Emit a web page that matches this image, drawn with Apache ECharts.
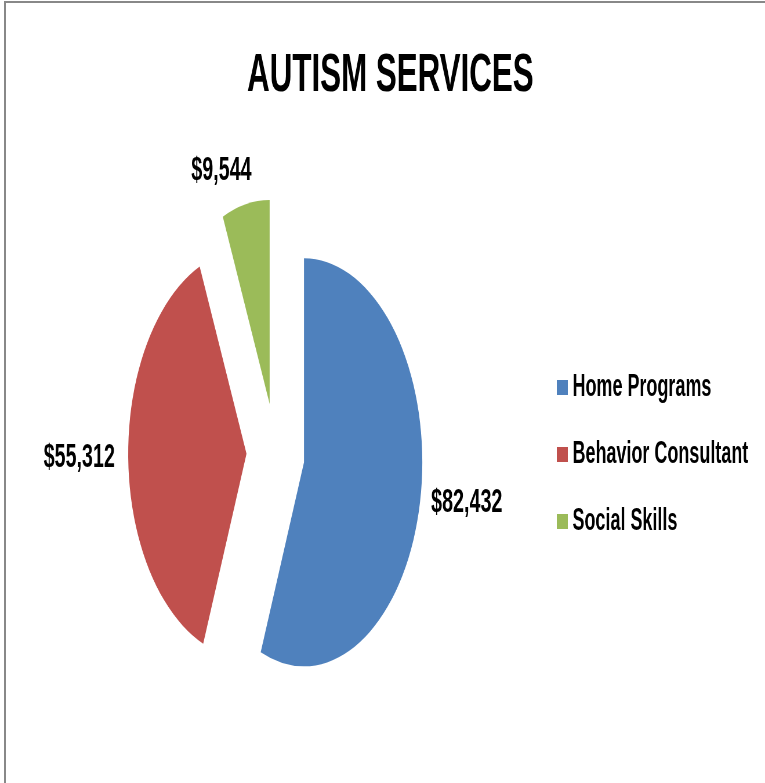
<!DOCTYPE html>
<html>
<head>
<meta charset="utf-8">
<script src="https://cdn.jsdelivr.net/npm/echarts@6/dist/echarts.min.js"></script>
<style>
  html, body { margin: 0; padding: 0; background: #fff; overflow: hidden; }
  #frame { position: absolute; left: 4px; top: 1px; width: 770px; height: 790px;
           border-top: 2px solid #888; border-left: 2px solid #888; }
  #wrap { position: absolute; left: 0; top: 0; width: 765px; height: 783px; overflow: hidden; }
  #chart { position: absolute; left: 0; top: 0; width: 1319px; height: 783px;
           transform: scaleX(0.58); transform-origin: 0 0; }
</style>
</head>
<body>
<div id="frame"></div>
<div id="wrap"><div id="chart"></div></div>
<script>
const titleText = 'AUTISM SERVICES';
const categories = ['Home Programs', 'Behavior Consultant', 'Social Skills'];
const values = [82432, 55312, 9544];
const colors = ['#4F81BD', '#C0504D', '#9BBB59'];

const FONT = "'Liberation Sans', Arial, sans-serif";
const labelLen = [14, 18, 34];

const chart = echarts.init(document.getElementById('chart'), null, { renderer: 'canvas' });

const data = categories.map((name, i) => ({
  name: name,
  value: values[i],
  selected: true,
  itemStyle: { color: colors[i] },
  labelLine: { show: false, length: labelLen[i], length2: 0 }
}));

chart.setOption({
  animation: false,
  backgroundColor: 'transparent',
  title: {
    text: titleText,
    left: 668,
    top: 44,
    textAlign: 'center',
    textStyle: { fontFamily: FONT, fontWeight: 'bold', fontSize: 54, color: '#000' }
  },
  legend: {
    orient: 'vertical',
    left: 955,
    top: 367,
    itemWidth: 19,
    itemHeight: 15,
    itemGap: 36,
    icon: 'rect',
    selectedMode: false,
    data: categories,
    textStyle: { fontFamily: FONT, fontWeight: 'bold', fontSize: 31, lineHeight: 30, color: '#000', padding: [0, 0, 0, 3] }
  },
  series: [{
    type: 'pie',
    center: [475, 453],
    radius: 204,
    startAngle: 90,
    clockwise: true,
    selectedMode: 'multiple',
    selectedOffset: 50,
    avoidLabelOverlap: false,
    emphasis: { disabled: true },
    select: { itemStyle: {} },
    label: {
      show: true,
      position: 'outside',
      fontFamily: FONT,
      fontWeight: 'bold',
      fontSize: 34,
      color: '#000',
      formatter: p => '$' + p.value.toLocaleString('en-US')
    },
    labelLayout: function (p) {
      if (p.dataIndex === 2) { return { dx: 22 }; }
      return {};
    },
    data: data
  }]
});
</script>
</body>
</html>
